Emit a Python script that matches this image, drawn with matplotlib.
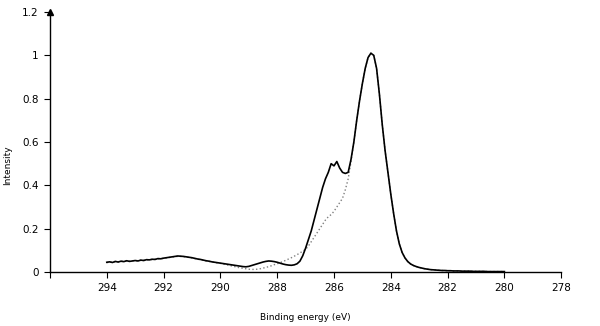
import numpy as np
import matplotlib
matplotlib.use("Agg")
import matplotlib.pyplot as plt

# binding energy grid, 294.0 -> 280.0 eV in 0.1 eV steps
energy = np.round(np.arange(294.0, 279.95, -0.1), 1)

solid = [
    0.045, 0.047, 0.044, 0.049, 0.046, 0.050, 0.048, 0.052, 0.049, 0.051,
    0.053, 0.051, 0.055, 0.053, 0.057, 0.056, 0.059, 0.058, 0.062, 0.061,
    0.064, 0.066, 0.068, 0.070, 0.072, 0.074, 0.073, 0.072, 0.070, 0.068,
    0.066, 0.063, 0.060, 0.058, 0.055, 0.052, 0.050, 0.047, 0.045, 0.043,
    0.041, 0.039, 0.037, 0.035, 0.033, 0.031, 0.029, 0.027, 0.025, 0.024,
    0.026, 0.030, 0.034, 0.038, 0.042, 0.046, 0.049, 0.051, 0.050, 0.048,
    0.045, 0.041, 0.037, 0.034, 0.032, 0.031, 0.033, 0.038, 0.050, 0.075,
    0.11, 0.15, 0.19, 0.24, 0.29, 0.34, 0.39, 0.43, 0.46, 0.50,
    0.49, 0.51, 0.48, 0.46, 0.455, 0.46, 0.52, 0.60, 0.70, 0.79,
    0.87, 0.94, 0.99, 1.01, 1.00, 0.94, 0.82, 0.68, 0.56, 0.46,
    0.36, 0.27, 0.19, 0.13, 0.09, 0.065, 0.048, 0.037, 0.030, 0.025,
    0.021, 0.018, 0.015, 0.013, 0.011, 0.010, 0.009, 0.008, 0.007, 0.007,
    0.006, 0.006, 0.005, 0.005, 0.005, 0.004, 0.004, 0.004, 0.004, 0.003,
    0.003, 0.003, 0.003, 0.003, 0.002, 0.002, 0.002, 0.002, 0.002, 0.002,
    0.002,
]

dotted = [
    0.043, 0.046, 0.045, 0.047, 0.047, 0.049, 0.049, 0.050, 0.050, 0.052,
    0.052, 0.053, 0.054, 0.055, 0.056, 0.057, 0.058, 0.059, 0.060, 0.062,
    0.063, 0.065, 0.067, 0.069, 0.071, 0.072, 0.072, 0.071, 0.069, 0.067,
    0.065, 0.062, 0.059, 0.057, 0.054, 0.051, 0.049, 0.046, 0.044, 0.042,
    0.040, 0.037, 0.034, 0.031, 0.028, 0.025, 0.022, 0.019, 0.017, 0.015,
    0.013, 0.012, 0.012, 0.013, 0.015, 0.018, 0.021, 0.025, 0.029, 0.034,
    0.038, 0.043, 0.048, 0.054, 0.060, 0.066, 0.073, 0.080, 0.088, 0.096,
    0.105, 0.12, 0.14, 0.16, 0.18, 0.20, 0.22, 0.24, 0.255, 0.265,
    0.28, 0.30, 0.32, 0.34, 0.38, 0.43, 0.51, 0.60, 0.70, 0.79,
    0.87, 0.94, 0.99, 1.01, 1.00, 0.94, 0.82, 0.68, 0.56, 0.46,
    0.36, 0.27, 0.19, 0.13, 0.09, 0.065, 0.048, 0.037, 0.030, 0.025,
    0.021, 0.018, 0.015, 0.013, 0.011, 0.010, 0.009, 0.008, 0.007, 0.007,
    0.006, 0.006, 0.005, 0.005, 0.005, 0.004, 0.004, 0.004, 0.004, 0.003,
    0.003, 0.003, 0.003, 0.003, 0.002, 0.002, 0.002, 0.002, 0.002, 0.002,
    0.002,
]

xticks = [294, 292, 290, 288, 286, 284, 282, 280, 278]
yticks = [0, 0.2, 0.4, 0.6, 0.8, 1, 1.2]
ytick_labels = ["0", "0.2", "0.4", "0.6", "0.8", "1", "1.2"]

fig = plt.figure(figsize=(6, 3.26), dpi=100)
ax = fig.add_axes([0.0833, 0.1656, 0.852, 0.7975])

ax.plot(energy, dotted, color="#808080", linestyle=":", linewidth=1.0)
ax.plot(energy, solid, color="black", linewidth=1.2)

ax.set_xlim(296, 278)
ax.set_ylim(0, 1.2)
ax.set_xticks([296] + xticks)
ax.set_xticklabels([""] + [str(t) for t in xticks], fontsize=7.5)
ax.set_yticks(yticks)
ax.set_yticklabels(ytick_labels, fontsize=7.5)
ax.tick_params(direction="out", length=4, width=0.8, pad=4)

for s in ["top", "right"]:
    ax.spines[s].set_visible(False)
for s in ["left", "bottom"]:
    ax.spines[s].set_linewidth(1.0)

# arrow head on the y axis
ax.plot(0, 1.0, marker="^", color="black", markersize=5,
        transform=ax.transAxes, clip_on=False)

ax.set_xlabel("Binding energy (eV)", fontsize=6.5, labelpad=14)
ax.set_ylabel("Intensity", fontsize=6.5)
ax.yaxis.set_label_coords(-0.075, 0.41)

fig.savefig("out.png", dpi=100)
